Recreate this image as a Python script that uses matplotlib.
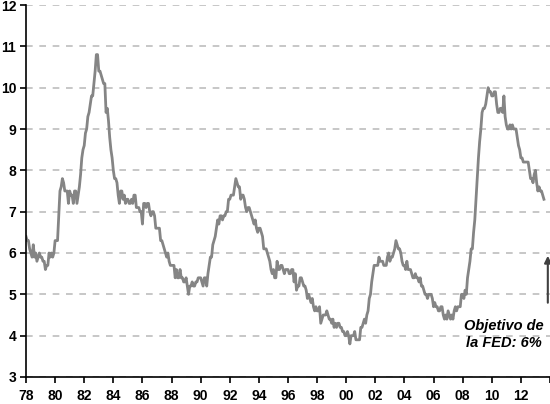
import numpy as np
import matplotlib
matplotlib.use('Agg')
from matplotlib import pyplot as plt

# tasa de desempleo EEUU, mensual, ene-1978 .. ago-2013
unemp = {
    1978: [6.4, 6.3, 6.3, 6.1, 6.0, 5.9, 6.2, 5.9, 6.0, 5.8, 5.9, 6.0],
    1979: [5.9, 5.9, 5.8, 5.8, 5.6, 5.7, 5.7, 6.0, 5.9, 6.0, 5.9, 6.0],
    1980: [6.3, 6.3, 6.3, 6.9, 7.5, 7.6, 7.8, 7.7, 7.5, 7.5, 7.5, 7.2],
    1981: [7.5, 7.4, 7.4, 7.2, 7.5, 7.5, 7.2, 7.4, 7.6, 7.9, 8.3, 8.5],
    1982: [8.6, 8.9, 9.0, 9.3, 9.4, 9.6, 9.8, 9.8, 10.1, 10.4, 10.8, 10.8],
    1983: [10.4, 10.4, 10.3, 10.2, 10.1, 10.1, 9.4, 9.5, 9.2, 8.8, 8.5, 8.3],
    1984: [8.0, 7.8, 7.8, 7.7, 7.4, 7.2, 7.5, 7.5, 7.3, 7.4, 7.2, 7.3],
    1985: [7.3, 7.2, 7.2, 7.3, 7.2, 7.4, 7.4, 7.1, 7.1, 7.1, 7.0, 7.0],
    1986: [6.7, 7.2, 7.2, 7.1, 7.2, 7.2, 7.0, 6.9, 7.0, 7.0, 6.9, 6.6],
    1987: [6.6, 6.6, 6.6, 6.3, 6.3, 6.2, 6.1, 6.0, 5.9, 6.0, 5.8, 5.7],
    1988: [5.7, 5.7, 5.7, 5.4, 5.6, 5.4, 5.4, 5.6, 5.4, 5.4, 5.3, 5.3],
    1989: [5.4, 5.2, 5.0, 5.2, 5.2, 5.3, 5.2, 5.2, 5.3, 5.3, 5.4, 5.4],
    1990: [5.4, 5.3, 5.2, 5.4, 5.4, 5.2, 5.5, 5.7, 5.9, 5.9, 6.2, 6.3],
    1991: [6.4, 6.6, 6.8, 6.7, 6.9, 6.9, 6.8, 6.9, 6.9, 7.0, 7.0, 7.3],
    1992: [7.3, 7.4, 7.4, 7.4, 7.6, 7.8, 7.7, 7.6, 7.6, 7.3, 7.4, 7.4],
    1993: [7.3, 7.1, 7.0, 7.1, 7.1, 7.0, 6.9, 6.8, 6.7, 6.8, 6.6, 6.5],
    1994: [6.6, 6.6, 6.5, 6.4, 6.1, 6.1, 6.1, 6.0, 5.9, 5.8, 5.6, 5.5],
    1995: [5.6, 5.4, 5.4, 5.8, 5.6, 5.6, 5.7, 5.7, 5.6, 5.5, 5.6, 5.6],
    1996: [5.6, 5.5, 5.5, 5.6, 5.6, 5.3, 5.5, 5.1, 5.2, 5.2, 5.4, 5.4],
    1997: [5.3, 5.2, 5.2, 5.1, 4.9, 5.0, 4.9, 4.8, 4.9, 4.7, 4.6, 4.7],
    1998: [4.6, 4.6, 4.7, 4.3, 4.4, 4.5, 4.5, 4.5, 4.6, 4.5, 4.4, 4.4],
    1999: [4.3, 4.4, 4.2, 4.3, 4.2, 4.3, 4.3, 4.2, 4.2, 4.1, 4.1, 4.0],
    2000: [4.0, 4.1, 4.0, 3.8, 4.0, 4.0, 4.0, 4.1, 3.9, 3.9, 3.9, 3.9],
    2001: [4.2, 4.2, 4.3, 4.4, 4.3, 4.5, 4.6, 4.9, 5.0, 5.3, 5.5, 5.7],
    2002: [5.7, 5.7, 5.7, 5.9, 5.8, 5.8, 5.8, 5.7, 5.7, 5.7, 5.9, 6.0],
    2003: [5.8, 5.9, 5.9, 6.0, 6.1, 6.3, 6.2, 6.1, 6.1, 6.0, 5.8, 5.7],
    2004: [5.7, 5.6, 5.8, 5.6, 5.6, 5.6, 5.5, 5.4, 5.4, 5.5, 5.4, 5.4],
    2005: [5.3, 5.4, 5.2, 5.2, 5.1, 5.0, 5.0, 4.9, 5.0, 5.0, 5.0, 4.9],
    2006: [4.7, 4.8, 4.7, 4.7, 4.6, 4.6, 4.7, 4.7, 4.5, 4.4, 4.5, 4.4],
    2007: [4.6, 4.5, 4.4, 4.5, 4.4, 4.6, 4.7, 4.6, 4.7, 4.7, 4.7, 5.0],
    2008: [5.0, 4.9, 5.1, 5.0, 5.4, 5.6, 5.8, 6.1, 6.1, 6.5, 6.8, 7.3],
    2009: [7.8, 8.3, 8.7, 9.0, 9.4, 9.5, 9.5, 9.6, 9.8, 10.0, 9.9, 9.9],
    2010: [9.8, 9.8, 9.9, 9.9, 9.6, 9.4, 9.4, 9.5, 9.5, 9.4, 9.8, 9.3],
    2011: [9.1, 9.0, 9.0, 9.1, 9.0, 9.1, 9.0, 9.0, 9.0, 8.8, 8.6, 8.5],
    2012: [8.3, 8.3, 8.2, 8.2, 8.2, 8.2, 8.2, 8.0, 7.8, 7.8, 7.7, 7.9],
    2013: [8.0, 7.7, 7.5, 7.6, 7.5, 7.5, 7.4, 7.3],
}

x = []
y = []
for yr, vals in unemp.items():
    for m, v in enumerate(vals):
        x.append(yr + m / 12.0)
        y.append(v)

tick_years = list(range(1978, 2015, 2))
tick_labels = ['%02d' % (t % 100) for t in tick_years[:-1]] + ['']
fed_target = 6

plt.rcParams['font.family'] = ['Liberation Sans', 'DejaVu Sans']

fig = plt.figure(figsize=(5.5, 4.04), dpi=100)
ax = fig.add_axes([26 / 550, 27 / 404, 524 / 550, 372 / 404])

ax.plot(x, y, color='#858585', lw=2.0)

ax.set_xlim(1978, 2014)
ax.set_ylim(3, 12)
ax.set_yticks(range(3, 13))
ax.set_xticks(tick_years)
ax.set_xticklabels(tick_labels)
ax.yaxis.grid(True, color='#bdbdbd', linestyle=(0, (4, 4)), lw=1.2)
ax.set_axisbelow(True)

for s in ['top', 'right']:
    ax.spines[s].set_visible(False)
ax.spines['left'].set_linewidth(1.2)
ax.spines['bottom'].set_linewidth(1.2)
ax.tick_params(axis='both', length=4, width=1.2, labelsize=10, pad=3)
for lab in ax.get_xticklabels() + ax.get_yticklabels():
    lab.set_fontweight('bold')
ax.tick_params(axis='x', pad=5)

ax.annotate('', xy=(2013.85, fed_target), xytext=(2013.85, 4.73),
            arrowprops=dict(arrowstyle='-|>', color='#404040', lw=1.5,
                            mutation_scale=10))
ax.text(2010.85, 4.02, 'Objetivo de\nla FED: 6%', ha='center', va='center',
        fontsize=10.5, fontweight='bold', fontstyle='italic', linespacing=1.25)

plt.savefig('out.png', dpi=100)
